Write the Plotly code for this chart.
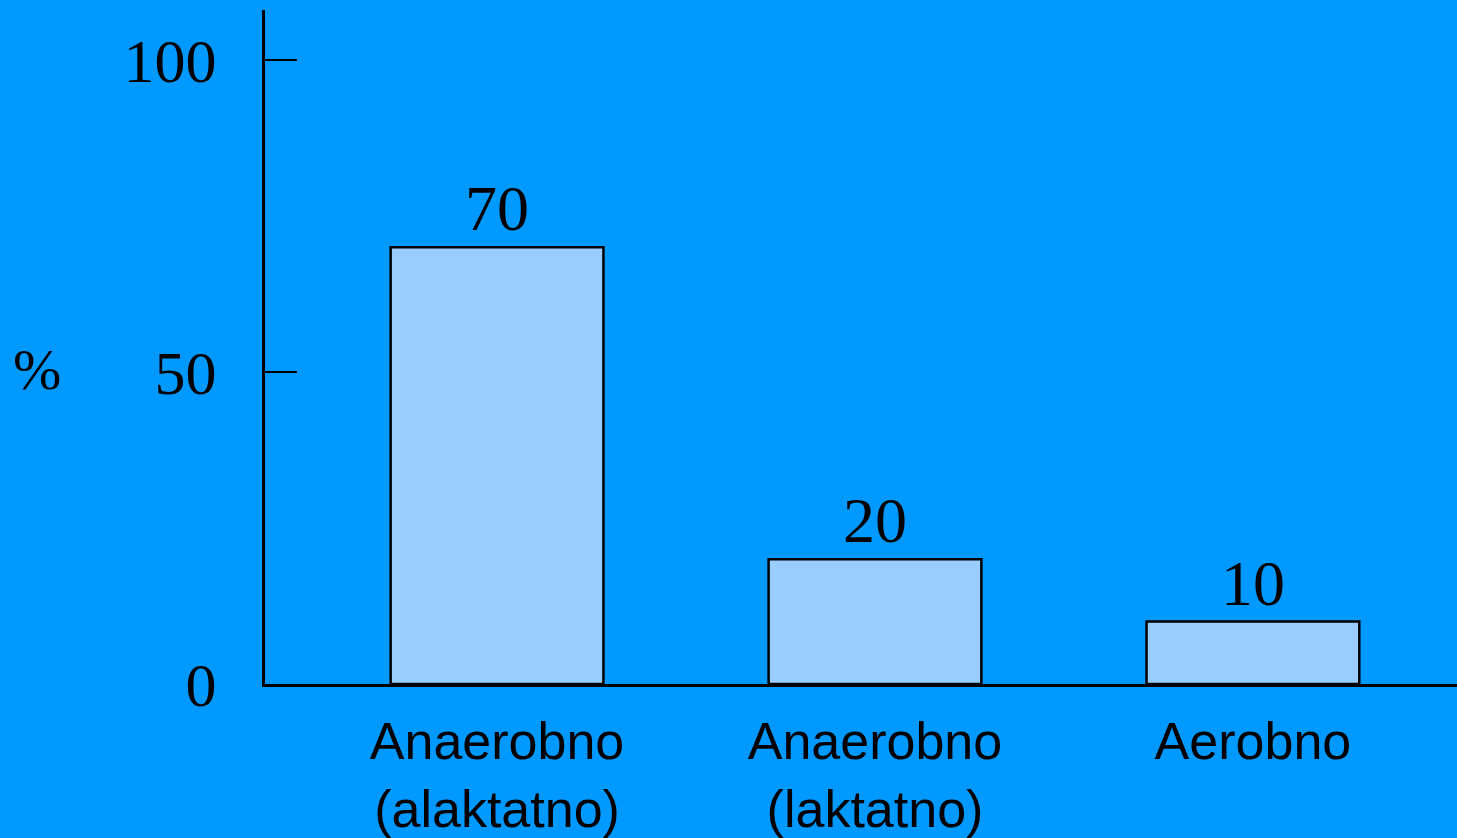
import plotly.graph_objects as go

# Energy contribution by system (%)
categories = ["Anaerobno<br>(alaktatno)", "Anaerobno<br>(laktatno)", "Aerobno"]
values = [70, 20, 10]
tick_values = [0, 50, 100]
tick_labels = ["0", "50", "100"]

BG = "#0099FF"
BAR = "#99CCFF"
SERIF = "Liberation Serif, Times New Roman, serif"
SANS = "Liberation Sans, Arial, sans-serif"

fig = go.Figure(
    go.Bar(
        x=categories,
        y=values,
        text=[str(v) for v in values],
        textposition="outside",
        textfont=dict(family=SERIF, size=64, color="black"),
        marker=dict(color=BAR, line=dict(color="black", width=2.5)),
        cliponaxis=False,
        width=0.563,
    )
)

fig.update_layout(
    width=1457,
    height=838,
    margin=dict(l=265, r=0, t=10, b=152),
    paper_bgcolor=BG,
    plot_bgcolor=BG,
    showlegend=False,
    xaxis=dict(
        type="category",
        range=[-0.614, 2.54],
        showline=True,
        linecolor="black",
        linewidth=3,
        showgrid=False,
        ticks="",
        ticklabelstandoff=10,
        tickfont=dict(family=SANS, size=52, color="black"),
        zeroline=False,
    ),
    yaxis=dict(
        range=[0, 108],
        showline=True,
        linecolor="black",
        linewidth=3,
        showgrid=False,
        zeroline=False,
        tickvals=tick_values,
        ticktext=tick_labels,
        ticks="inside",
        ticklen=32,
        tickwidth=2,
        tickcolor="black",
        ticklabelstandoff=33,
        tickfont=dict(family=SERIF, size=62, color="black"),
    ),
    annotations=[
        dict(
            text="%",
            xref="paper",
            yref="paper",
            x=-0.191,
            y=0.467,
            xanchor="center",
            yanchor="middle",
            showarrow=False,
            font=dict(family=SERIF, size=58, color="black"),
        )
    ],
)

fig.write_html("out.html")
